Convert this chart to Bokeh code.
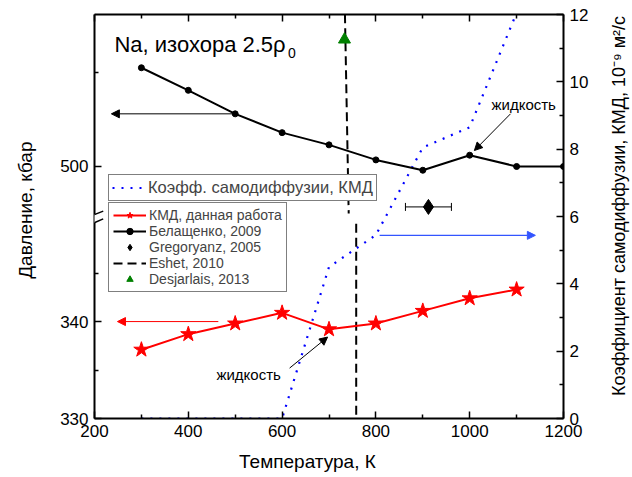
import numpy as np
from bokeh.plotting import figure
from bokeh.layouts import row
from bokeh.models import (Range1d, LinearAxis, FixedTicker, Legend, LegendItem, Label,
                          Arrow, NormalHead, TeeHead, ColumnDataSource, Whisker)
from bokeh.embed import file_html
from bokeh.resources import INLINE

# ---------------- data ----------------
T_kmd = [300, 400, 500, 600, 700, 800, 900, 1000, 1100]
P_kmd = [337.1, 338.7, 339.8, 340.9, 339.2, 339.8, 341.1, 342.4, 343.3]

T_bel = [300, 400, 500, 600, 700, 800, 900, 1000, 1100, 1200]
P_bel = [510.5, 508.1, 505.6, 503.6, 502.3, 500.7, 499.6, 501.2, 500.0, 500.0]

T_greg = [912]
T_greg_err = [49]
P_greg = [495.7]

T_eshet_hi = [734, 742]
P_eshet_hi = [516.2, 495.0]
T_eshet_lo = [758, 758]
P_eshet_lo = [350.1, 330.0]

T_desj = [733]
P_desj = [513.5]

T_diff = [300, 400, 500, 600, 700, 800, 900, 1000, 1100]
D_diff = [0, 0, 0, 0, 4.5, 5.45, 8.05, 8.65, 12.05]

x_ticks = [200, 400, 600, 800, 1000, 1200]
x_minor = [300, 500, 700, 900, 1100]
p_ticks = [330, 340, 500]
p_minor = [335, 345, 510]
d_ticks = [0, 2, 4, 6, 8, 10, 12]
d_minor = [1, 3, 5, 7, 9, 11]

x_title = "Температура, К"
y_title = "Давление, кбар"
y2_title = "Коэффициент самодиффузии, КМД, 10⁻⁹ м²/с"


# broken pressure axis: lower part 330..350 kept as is, upper part offset and compressed
def yt(P):
    return P if P < 400 else 356 + (P - 500) * 0.97


FONT = "Liberation Sans"
H = 477

p = figure(width=564, height=H, x_range=Range1d(200, 1200), y_range=Range1d(330, 371.68),
           output_backend="svg", toolbar_location=None,
           min_border_left=54, min_border_right=41, min_border_top=14, min_border_bottom=59)
p.extra_y_ranges = {"D": Range1d(0, 12)}
p.xgrid.visible = False
p.ygrid.visible = False
p.outline_line_color = None
p.background_fill_color = "white"
p.border_fill_color = "white"

xax = p.below[0]
yax = p.left[0]
right = LinearAxis(y_range_name="D")
p.add_layout(right, "right")
top = LinearAxis()
p.add_layout(top, "above")

xax.ticker = FixedTicker(ticks=x_ticks, minor_ticks=x_minor)
top.ticker = FixedTicker(ticks=x_ticks, minor_ticks=x_minor)
yax.ticker = FixedTicker(ticks=[yt(v) for v in p_ticks], minor_ticks=[yt(v) for v in p_minor])
yax.major_label_overrides = {yt(v): str(v) for v in p_ticks}
right.ticker = FixedTicker(ticks=d_ticks, minor_ticks=d_minor)

for ax in [xax, yax, right, top]:
    ax.axis_line_width = 2
    ax.axis_line_color = "black"
    ax.major_tick_in = 7
    ax.major_tick_out = 0
    ax.minor_tick_in = 4
    ax.minor_tick_out = 0
    ax.major_tick_line_width = 1.5
    ax.minor_tick_line_width = 1.5
    ax.major_label_text_font = FONT
    ax.major_label_text_font_size = "17px"
    ax.major_label_text_color = "black"
    ax.major_label_standoff = 6
top.major_label_text_alpha = 0
top.major_label_text_font_size = "1px"
top.major_label_standoff = 0

# x-axis title as a single-label outer axis (exact horizontal placement)
xt = LinearAxis()
xt.ticker = FixedTicker(ticks=[654], minor_ticks=[])
xt.major_label_overrides = {654: x_title}
xt.axis_line_color = None
xt.major_tick_line_color = None
xt.minor_tick_line_color = None
xt.major_tick_in = 0
xt.major_tick_out = 0
xt.major_label_standoff = 11
xt.major_label_text_font = FONT
xt.major_label_text_font_size = "19px"
xt.major_label_text_color = "black"
p.add_layout(xt, "below")

# ---------------- glyphs ----------------
dotted = p.line(T_diff, D_diff, y_range_name="D", line_color="#0000ff", line_width=2.2,
                line_dash="2 7")

eshet = p.multi_line([T_eshet_hi, T_eshet_lo],
                     [[yt(v) for v in P_eshet_hi], [yt(v) for v in P_eshet_lo]],
                     line_color="black", line_width=2, line_dash="9 5")

red_line = p.line(T_kmd, [yt(v) for v in P_kmd], line_color="#ff0000", line_width=2)
red_star = p.scatter(T_kmd, [yt(v) for v in P_kmd], marker="star", size=16,
                     fill_color="#ff0000", line_color="#ff0000")

bel_line = p.line(T_bel, [yt(v) for v in P_bel], line_color="black", line_width=2)
bel_dots = p.scatter(T_bel, [yt(v) for v in P_bel], marker="circle", size=6,
                     fill_color="black", line_color="black")

greg_src = ColumnDataSource(dict(base=[yt(v) for v in P_greg],
                                 lower=[t - e for t, e in zip(T_greg, T_greg_err)],
                                 upper=[t + e for t, e in zip(T_greg, T_greg_err)]))
p.add_layout(Whisker(source=greg_src, base="base", lower="lower", upper="upper",
                     dimension="width", line_color="black", line_width=1,
                     upper_head=TeeHead(size=8, line_color="black", line_width=1),
                     lower_head=TeeHead(size=8, line_color="black", line_width=1)))
greg = p.scatter(T_greg, [yt(v) for v in P_greg], marker="diamond", size=15,
                 fill_color="black", line_color="black")

desj = p.scatter(T_desj, [yt(v) for v in P_desj], marker="triangle", size=12,
                 fill_color="#008000", line_color="#008000")


# ---------------- legends ----------------
def style_legend(lg, fs, lh):
    lg.border_line_color = "black"
    lg.border_line_width = 1
    lg.background_fill_color = "white"
    lg.background_fill_alpha = 1
    lg.label_text_font = FONT
    lg.label_text_font_size = fs
    lg.glyph_width = 33
    lg.glyph_height = lh
    lg.label_height = lh
    lg.spacing = 0
    lg.padding = 3
    lg.margin = 0
    lg.label_standoff = 3


leg1 = Legend(items=[LegendItem(label="Коэфф. самодиффузии, КМД", renderers=[dotted])],
              location=(14, 217))
leg2 = Legend(items=[
    LegendItem(label="КМД, данная работа", renderers=[red_line, red_star]),
    LegendItem(label="Белащенко, 2009", renderers=[bel_line, bel_dots]),
    LegendItem(label="Gregoryanz, 2005", renderers=[greg]),
    LegendItem(label="Eshet, 2010", renderers=[eshet]),
    LegendItem(label="Desjarlais, 2013", renderers=[desj]),
], location=(14, 126))
style_legend(leg1, "16.5px", 17)
style_legend(leg2, "14px", 16)
leg2.padding = 4
p.add_layout(leg1)
p.add_layout(leg2)


# ---------------- arrows ----------------
def head(color):
    return NormalHead(size=8, fill_color=color, line_color=color)


p.add_layout(Arrow(end=head("black"), x_start=500, y_start=yt(505.6), x_end=236, y_end=yt(505.6),
                   line_color="black", line_width=1))
p.add_layout(Arrow(end=head("#ff0000"), x_start=464, y_start=yt(340.0), x_end=249, y_end=yt(340.0),
                   line_color="#ff0000", line_width=1))
p.add_layout(Arrow(end=head("#3355ff"), x_start=808, y_start=5.44, x_end=1140, y_end=5.44,
                   y_range_name="D", line_color="#3355ff", line_width=1.2))
p.add_layout(Arrow(end=head("black"), x_start=1087, y_start=yt(505.6), x_end=1010, y_end=yt(501.7),
                   line_color="black", line_width=1))
p.add_layout(Arrow(end=head("black"), x_start=616, y_start=yt(335.2), x_end=697, y_end=yt(338.4),
                   line_color="black", line_width=1))

# axis break marks
p.add_layout(Arrow(end=None, x_start=200, y_start=350.2, x_end=200, y_end=351.07,
                   line_color="white", line_width=6))
p.add_layout(Arrow(end=None, x_start=185.7, y_start=350.77, x_end=218.6, y_end=351.39,
                   line_color="black", line_width=1.5))
p.add_layout(Arrow(end=None, x_start=185.7, y_start=349.91, x_end=218.6, y_end=350.60,
                   line_color="black", line_width=1.5))


# ---------------- texts ----------------
def lab(fig, x, y, text, size, align="left", baseline="middle", angle=0):
    fig.add_layout(Label(x=x, y=y, text=text, text_align=align, angle=angle,
                         text_baseline=baseline, text_font=FONT, text_font_size=size,
                         text_color="black"))


lab(p, 242.6, 368.62, "Na, изохора 2.5ρ", "22px")
lab(p, 612.5, 367.72, "0", "14px")
lab(p, 1046.5, yt(506.6), "жидкость", "15px")
lab(p, 460, yt(334.5), "жидкость", "15px")


# side strips holding the vertical axis titles (read bottom-to-top)
def strip(width):
    f = figure(width=width, height=H, x_range=Range1d(0, width), y_range=Range1d(0, H),
               output_backend="svg", toolbar_location=None, min_border=0,
               min_border_left=0, min_border_right=0, min_border_top=0, min_border_bottom=0,
               x_axis_location=None, y_axis_location=None)
    f.xgrid.visible = False
    f.ygrid.visible = False
    f.outline_line_color = None
    f.background_fill_color = "white"
    f.border_fill_color = "white"
    return f


pl = strip(40)
lab(pl, 25, H - 231, y_title, "19px", align="center", angle=np.pi / 2)
pr = strip(28)
lab(pr, 14, H - 226, y2_title, "18px", align="center", angle=np.pi / 2)

layout = row(pl, p, pr, spacing=0)
open("out.html", "w").write(file_html(layout, INLINE))
